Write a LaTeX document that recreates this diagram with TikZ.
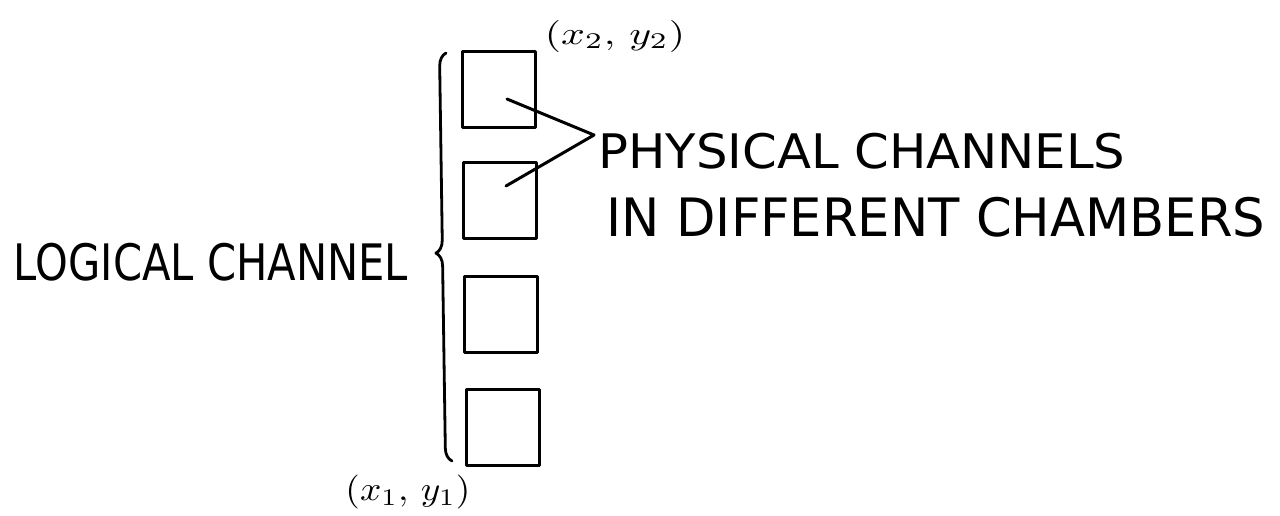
\documentclass[tikz,border=0pt]{standalone}
\usepackage{fontspec}
\usepackage{graphicx}
\setmainfont{DejaVu Sans}
\usetikzlibrary{decorations.pathreplacing}
\newcommand{\fitbox}[3]{\resizebox*{#1}{#2}{#3}}
\begin{document}
\begin{tikzpicture}[x=1pt,y=-1pt,
  line width=3pt, line cap=round, line join=round,
  chamber/.style={draw, minimum width=73pt, minimum height=76pt, inner sep=0pt, outer sep=0pt},
  lbl/.style={inner sep=0pt, outer sep=0pt}]
\useasboundingbox[fill=white] (0,0) rectangle (1280,515);
% chambers
\node[chamber] (c1) at (499,89) {};
\node[chamber] (c2) at (499.5,200) {};
\node[chamber] (c3) at (500.5,314) {};
\node[chamber] (c4) at (502.5,427) {};
% brace
\coordinate (bb) at (452,461);
\coordinate (bt) at (446,53);
\draw[line width=2.8pt, decorate, decoration={brace, amplitude=13pt, aspect=0.51}] (bb) -- (bt);
% labels
\node[lbl] (logical) at (211,262) {\fitbox{394pt}{38pt}{LOGICAL CHANNEL}};
\node[lbl] (phys) at (862,151) {\fitbox{527pt}{36pt}{PHYSICAL CHANNELS}};
\node[lbl] (diff) at (936,217) {\fitbox{658pt}{40pt}{IN DIFFERENT CHAMBERS}};
\node[lbl] (p2) at (615,36) {\fitbox{140pt}{32pt}{$(x_2,\,y_2)$}};
\node[lbl] (p1) at (408,492) {\fitbox{125pt}{34pt}{$(x_1,\,y_1)$}};
% pointer lines
\coordinate (a1) at (507,99);
\coordinate (a2) at (506,186);
\coordinate (tip) at (594,135);
\draw (a1) -- (tip) -- (a2);
\end{tikzpicture}
\end{document}
